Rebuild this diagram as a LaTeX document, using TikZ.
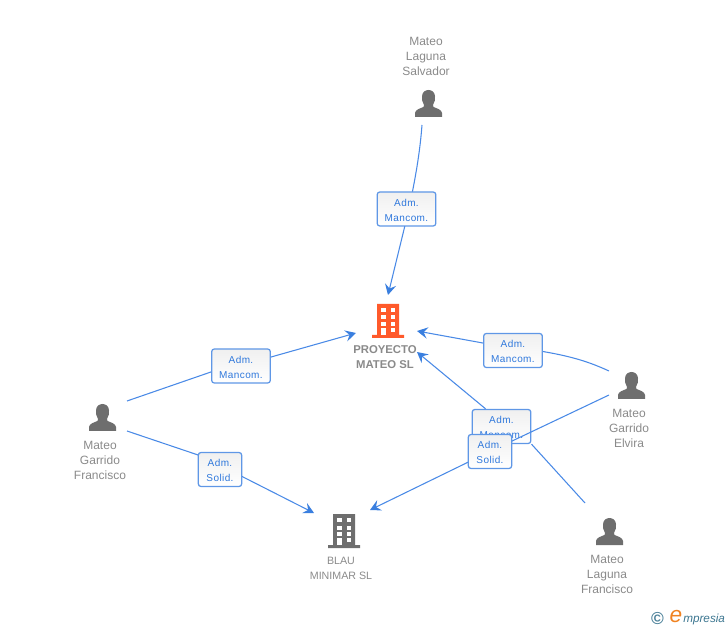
\documentclass[tikz,border=0pt]{standalone}
\usepackage{fontspec}
\setmainfont{Liberation Sans}
\newfontfamily\labelfont[LetterSpace=4]{Liberation Sans}
\usetikzlibrary{arrows.meta}
\definecolor{linkblue}{HTML}{4A8AE6}
\definecolor{tipblue}{HTML}{3A7FDF}
\definecolor{boxblue}{HTML}{5F97E6}
\definecolor{labelblue}{HTML}{2F78DC}
\definecolor{namegray}{HTML}{8A8A8A}
\definecolor{icongray}{HTML}{6E6E6E}
\definecolor{mainorange}{HTML}{FF5A2B}
\definecolor{copyblue}{HTML}{4C8199}
\definecolor{brandorange}{HTML}{F08322}
\definecolor{brandblue}{HTML}{3C7690}
\newcommand{\liftline}{\rule{0pt}{7pt}}
\tikzset{
  link/.style={draw=linkblue,line width=0.8pt},
  linkarrow/.style={link,-{Stealth[length=8pt,width=8.5pt,inset=3pt,color=tipblue]}},
  rolebox/.style={draw=boxblue,line width=0.95pt,rounded corners=2pt,top color=black!6,bottom color=white,
    inner sep=0pt,minimum height=25.5pt,align=center,text=labelblue,
    font=\labelfont\fontsize{7.5pt}{11.25pt}\selectfont},
  widebox/.style={rolebox,minimum width=44pt},
  narrowbox/.style={rolebox,minimum width=32.5pt},
  namelabel/.style={align=center,text=namegray,inner sep=0pt,font=\fontsize{9pt}{11.25pt}\selectfont},
  firmlabel/.style={align=center,text=namegray,inner sep=0pt,font=\fontsize{8pt}{11.25pt}\selectfont},
  mainlabel/.style={align=center,text=namegray,inner sep=0pt,font=\bfseries\fontsize{8.5pt}{11.25pt}\selectfont},
  pics/personicon/.style={code={
    \fill[icongray] (-13.5,27) -- (-13.5,23) .. controls (-13,19.5) and (-8.5,18.5) .. (-5,17) -- (-4.5,15)
      .. controls (-6.5,12.5) and (-6.5,9) .. (-6.5,6.5) .. controls (-6.5,2) and (-3,0) .. (0,0)
      .. controls (3,0) and (6.5,2) .. (6.5,6.5) .. controls (6.5,9) and (6.5,12.5) .. (4.5,15) -- (5,17)
      .. controls (8.5,18.5) and (13,19.5) .. (13.5,23) -- (13.5,27) -- cycle;
  }},
  pics/buildingicon/.style={code={
    \fill[#1] (-11,0) rectangle (11,31) (-16,31) rectangle (16,34);
    \foreach \wy in {4,11.5,18,24}{
      \fill[white] (-7,\wy) rectangle (-2.5,\wy+4);
      \fill[white] (2.5,\wy) rectangle (7,\wy+4);
    }
    \fill[white] (-7,24) rectangle (-2.5,31);
  }}
}
\begin{document}
\begin{tikzpicture}[x=0.75pt,y=-0.75pt]
\useasboundingbox (0,0) rectangle (728,630);

% icons
\pic at (428.5,90) {personicon};
\pic at (102.5,404) {personicon};
\pic at (631.5,372) {personicon};
\pic at (609.5,518) {personicon};
\pic at (388,304) {buildingicon=mainorange};
\pic at (344,514) {buildingicon=icongray};

% names
\node[namelabel] (salvador) at (426,56) {Mateo\\Laguna\\Salvador};
\node[namelabel] (francisco) at (100,460) {Mateo\\Garrido\\Francisco};
\node[namelabel] (elvira) at (629,428) {Mateo\\Garrido\\Elvira};
\node[namelabel] (lagunaf) at (607,574) {Mateo\\Laguna\\Francisco};
\node[mainlabel] (proyecto) at (385,357.5) {PROYECTO\\MATEO SL};
\node[firmlabel] (blau) at (341,568) {BLAU\\MINIMAR SL};

% connector ends
\coordinate (fromSalvador) at (422,125);
\coordinate (toMainTop) at (388,295);
\coordinate (fromFrancisA) at (127,401);
\coordinate (toMainLeft) at (356,333);
\coordinate (fromFrancisB) at (127,431);
\coordinate (toBlauLeft) at (314,513);
\coordinate (fromElviraA) at (609,371);
\coordinate (toMainRight) at (417,331);
\coordinate (fromElviraB) at (609,395);
\coordinate (toBlauRight) at (370,510);
\coordinate (fromLaguna) at (585,503);
\coordinate (toMainLow) at (417,352);
\coordinate (soliCentre) at (490,451.5);

% role boxes with their connectors
\draw[link] (fromSalvador) .. controls (420,150) and (417,170) .. (409,209);
\draw[linkarrow] (409,209) -- (toMainTop);
\node[widebox] (roleSalvador) at (406.5,209) {\liftline Adm.\\Mancom.};

\draw[link] (fromFrancisA) -- (241,361.6);
\draw[linkarrow] (241,365.5) -- (toMainLeft);
\node[widebox] (roleFrancisA) at (241,366) {\liftline Adm.\\Mancom.};

\draw[link] (fromFrancisB) -- (220,462.4);
\draw[linkarrow] (220,465.3) -- (toBlauLeft);
\node[narrowbox] (roleFrancisB) at (220,469.5) {\liftline Adm.\\Solid.};

\draw[link] (fromElviraA) .. controls (585,360) and (565,354) .. (513,347);
\draw[linkarrow] (513,348.5) -- (toMainRight);
\node[widebox] (roleElvira) at (513,350.5) {\liftline Adm.\\Mancom.};

\node[widebox] (roleLaguna) at (501.5,426.5) {\liftline Adm.\\Mancom.};
\draw[link] (fromLaguna) -- (roleLaguna.south east);
\draw[linkarrow] (roleLaguna.132) -- (toMainLow);

\draw[link] (fromElviraB) -- (soliCentre);
\draw[linkarrow] (soliCentre) -- (toBlauRight);
\node[narrowbox] (roleElviraB) at (soliCentre) {\liftline Adm.\\Solid.};

% brand mark
\node[inner sep=0pt,text=copyblue,font=\bfseries\fontsize{13pt}{13pt}\selectfont] (copymark) at (657.5,619) {©};
\node[inner sep=0pt,text=brandorange,font=\itshape\fontsize{17pt}{17pt}\selectfont] (brande) at (676,616.5) {e};
\node[inner sep=0pt,anchor=west,text=brandblue,font=\itshape\fontsize{8.8pt}{10pt}\selectfont] (brandrest) at (683,619.5) {mpresia};
\end{tikzpicture}
\end{document}
